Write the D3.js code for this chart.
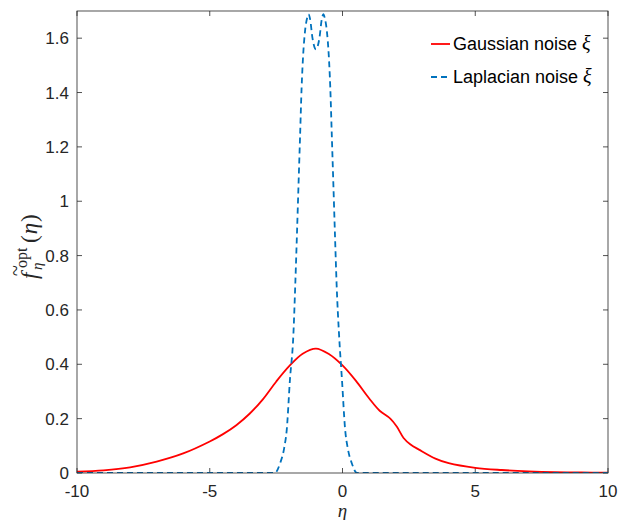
<!DOCTYPE html>
<html>
<head>
<meta charset="utf-8">
<script src="https://cdn.jsdelivr.net/npm/d3@7"></script>
<style>
  body { margin: 0; background: #fff; }
  svg { display: block; }
</style>
</head>
<body>
<svg id="chart" width="626" height="520"></svg>
<script>
// data
var xTicks = [-10, -5, 0, 5, 10];
var yTicks = [0, 0.2, 0.4, 0.6, 0.8, 1, 1.2, 1.4, 1.6];

var gaussEta = [-10, -9, -8, -7, -6, -5, -4.5, -4, -3.5, -3, -2.5, -2, -1.5, -1, -0.5, 0, 0.5, 1, 1.4, 1.8, 2.05, 2.3, 2.55, 2.9, 3.5, 4, 5, 6, 7, 8, 9, 10];
var gaussVal = [0.005, 0.01, 0.021, 0.042, 0.072, 0.116, 0.143, 0.176, 0.218, 0.271, 0.336, 0.394, 0.439, 0.458, 0.437, 0.396, 0.340, 0.275, 0.229, 0.200, 0.170, 0.129, 0.106, 0.085, 0.053, 0.036, 0.019, 0.011, 0.006, 0.003, 0.002, 0.001];

var laplaceEta = [-10, -3, -2.55, -2.35, -2.2, -2.1, -1.98, -1.85, -1.78, -1.72, -1.66, -1.6, -1.54, -1.48, -1.41, -1.33, -1.28, -1.22, -1.13, -1.0, -0.87, -0.78, -0.72, -0.67, -0.59, -0.52, -0.46, -0.4, -0.34, -0.28, -0.22, -0.13, -0.02, 0.1, 0.2, 0.35, 0.55, 10];
var laplaceVal = [0, 0, 0, 0.036, 0.09, 0.159, 0.343, 0.509, 0.69, 0.865, 1.05, 1.234, 1.418, 1.541, 1.627, 1.675, 1.688, 1.67, 1.6, 1.559, 1.6, 1.67, 1.688, 1.675, 1.627, 1.541, 1.418, 1.234, 1.05, 0.865, 0.69, 0.509, 0.343, 0.159, 0.09, 0.036, 0, 0];

var seriesNames = ["Gaussian noise ", "Laplacian noise "];
var seriesColors = ["#ff0000", "#0072bd"];

var margin = {left: 77, right: 18, top: 11, bottom: 47};
var W = 626, H = 520;
var svg = d3.select("#chart");

var x = d3.scaleLinear().domain([-10, 10]).range([margin.left, W - margin.right]);
var y = d3.scaleLinear().domain([0, 1.7]).range([H - margin.bottom, margin.top]);

var axisCol = "#262626";
var sans = "'Liberation Sans', Arial, sans-serif";
var serif = "'Liberation Serif', 'Times New Roman', serif";

// clip for curves
svg.append("clipPath").attr("id", "clip")
  .append("rect")
  .attr("x", x(-10)).attr("y", y(1.7))
  .attr("width", x(10) - x(-10)).attr("height", y(0) - y(1.7));

// box + ticks (matlab style, inward)
var tl = 5;
var axes = svg.append("g");
xTicks.forEach(function(t) {
  axes.append("line").attr("x1", x(t)).attr("x2", x(t)).attr("y1", y(0)).attr("y2", y(0) - tl);
  axes.append("line").attr("x1", x(t)).attr("x2", x(t)).attr("y1", y(1.7)).attr("y2", y(1.7) + tl);
});
yTicks.forEach(function(t) {
  axes.append("line").attr("x1", x(-10)).attr("x2", x(-10) + tl).attr("y1", y(t)).attr("y2", y(t));
  axes.append("line").attr("x1", x(10)).attr("x2", x(10) - tl).attr("y1", y(t)).attr("y2", y(t));
});
axes.selectAll("line").attr("stroke", axisCol).attr("stroke-width", 0.8);

// curves
var lineSmooth = d3.line()
  .x(function(d) { return x(d[0]); })
  .y(function(d) { return y(d[1]); })
  .curve(d3.curveCatmullRom.alpha(0.5));
var lineMono = d3.line()
  .x(function(d) { return x(d[0]); })
  .y(function(d) { return y(d[1]); })
  .curve(d3.curveMonotoneX);

var gauss = d3.zip(gaussEta, gaussVal);
var laplace = d3.zip(laplaceEta, laplaceVal);

var plot = svg.append("g").attr("clip-path", "url(#clip)");
plot.append("path").datum(gauss)
  .attr("d", lineSmooth).attr("fill", "none")
  .attr("stroke", seriesColors[0]).attr("stroke-width", 1.8);
plot.append("path").datum(laplace)
  .attr("d", lineMono).attr("fill", "none")
  .attr("stroke", seriesColors[1]).attr("stroke-width", 1.8)
  .attr("stroke-dasharray", "6,4");

svg.append("rect")
  .attr("x", x(-10)).attr("y", y(1.7))
  .attr("width", x(10) - x(-10)).attr("height", y(0) - y(1.7))
  .attr("fill", "none").attr("stroke", axisCol).attr("stroke-width", 0.8);

// tick labels
svg.selectAll(".xl").data(xTicks).enter().append("text")
  .attr("x", function(d) { return x(d); })
  .attr("y", y(0) + 24)
  .attr("text-anchor", "middle")
  .attr("font-family", sans).attr("font-size", 17).attr("fill", axisCol)
  .text(function(d) { return String(d); });

svg.selectAll(".yl").data(yTicks).enter().append("text")
  .attr("x", x(-10) - 8)
  .attr("y", function(d) { return y(d) + 6; })
  .attr("text-anchor", "end")
  .attr("font-family", sans).attr("font-size", 17).attr("fill", axisCol)
  .text(function(d) { return String(d); });

// x label
svg.append("text")
  .attr("x", x(0)).attr("y", 517)
  .attr("text-anchor", "middle")
  .attr("font-family", serif).attr("font-style", "italic").attr("font-size", 19)
  .attr("fill", axisCol)
  .text("η");

// y label: f~_eta^opt(eta), rotated; local x runs bottom -> top
var yl = svg.append("g").attr("transform", "translate(37,243) rotate(-90)");
yl.append("text").attr("x", -36).attr("y", 0)
  .attr("font-family", serif).attr("font-style", "italic").attr("font-size", 23)
  .attr("fill", axisCol).text("f");
yl.append("text").attr("x", -33).attr("y", -15)
  .attr("font-family", serif).attr("font-size", 20).attr("fill", axisCol).text("~");
yl.append("text").attr("x", -25).attr("y", -10)
  .attr("font-family", serif).attr("font-size", 16).attr("fill", axisCol).text("opt");
yl.append("text").attr("x", -27).attr("y", 5)
  .attr("font-family", serif).attr("font-style", "italic").attr("font-size", 15)
  .attr("fill", axisCol).text("η");
var tail = yl.append("text").attr("x", 0).attr("y", 0)
  .attr("font-family", serif).attr("font-size", 23).attr("fill", axisCol);
tail.append("tspan").text("(");
tail.append("tspan").attr("font-style", "italic").attr("dx", 1).text("η");
tail.append("tspan").attr("dx", 1).text(")");

// legend
var leg = svg.append("g");
seriesNames.forEach(function(name, i) {
  var cy = 44 + i * 33;
  var l = leg.append("line")
    .attr("x1", 431).attr("x2", 450).attr("y1", cy).attr("y2", cy)
    .attr("stroke", seriesColors[i]).attr("stroke-width", 1.8);
  if (i === 1) l.attr("stroke-dasharray", "6,4");
  var t = leg.append("text")
    .attr("x", 453).attr("y", cy + 6)
    .attr("font-family", sans).attr("font-size", 18).attr("fill", "#000");
  t.append("tspan").text(name);
  t.append("tspan").attr("font-family", serif).attr("font-style", "italic").attr("font-size", 20).text("ξ");
});
</script>
</body>
</html>
